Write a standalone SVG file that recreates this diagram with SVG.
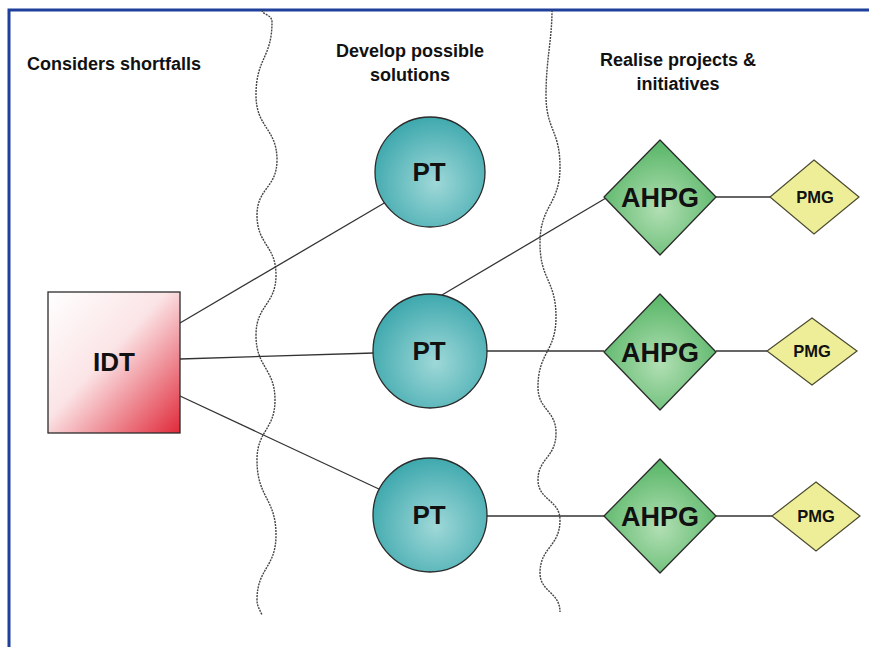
<svg xmlns="http://www.w3.org/2000/svg" width="869" height="647" viewBox="0 0 869 647">
  <defs>
    <linearGradient id="gIdt" x1="0" y1="0" x2="1" y2="1">
      <stop offset="0" stop-color="#ffffff"/>
      <stop offset="0.45" stop-color="#fbe4e6"/>
      <stop offset="1" stop-color="#e02a3a"/>
    </linearGradient>
    <radialGradient id="gPt" cx="0.55" cy="0.6" r="0.6">
      <stop offset="0" stop-color="#9fd8d8"/>
      <stop offset="1" stop-color="#3fa9ae"/>
    </radialGradient>
    <radialGradient id="gAh" cx="0.5" cy="0.6" r="0.55">
      <stop offset="0" stop-color="#b2dfb4"/>
      <stop offset="1" stop-color="#5db86b"/>
    </radialGradient>
    <style>
      .frame { fill: none; stroke: #1e3f9c; stroke-width: 3; }
      .wave { fill: none; stroke: #444; stroke-width: 1.4; stroke-dasharray: 2 1; }
      .conn line { stroke: #333; stroke-width: 1.3; }
      .head { font-family: "Liberation Sans", Arial, sans-serif; font-weight: bold; font-size: 18px; fill: #111; text-anchor: middle; }
      .lbl { font-family: "Liberation Sans", Arial, sans-serif; font-weight: bold; fill: #111; text-anchor: middle; }
      .shape { stroke: #2b2b2b; stroke-width: 1.3; }
      .pmg { fill: #eeee98; stroke: #4a4a30; stroke-width: 1.2; }
    </style>
  </defs>
  <rect width="869" height="647" fill="#ffffff"/>
  <path class="frame" d="M 9 647 L 9 10 L 869 10"/>

  <g id="dividers">
    <path class="wave" d="M 262 10 C 262 15 272 14 272 22 C 272 58 256 58 256 95 C 256 128 277 128 277 160 C 277 188 257 188 257 215 C 257 245 276 245 276 275 C 276 305 256 305 256 335 C 256 368 275 368 275 400 C 275 430 257 430 257 460 C 257 498 276 498 276 535 C 276 568 257 568 257 600 C 257 606 260 610 262 615"/>
    <path class="wave" d="M 552 10 C 552 40 546 60 546 95 C 546 130 560 130 560 167 C 560 205 540 205 540 243 C 540 280 556 280 556 317 C 556 352 538 352 538 387 C 538 410 556 410 556 433 C 556 458 538 458 538 480 C 538 500 560 500 560 520 C 560 547 540 547 540 573 C 540 592 560 592 560 612"/>
  </g>

  <g id="headers">
    <text class="head" x="114" y="70">Considers shortfalls</text>
    <text class="head" x="410" y="57">Develop possible</text>
    <text class="head" x="410" y="81">solutions</text>
    <text class="head" x="678" y="66">Realise projects &amp;</text>
    <text class="head" x="678" y="90">initiatives</text>
  </g>

  <g id="connectors" class="conn">
    <line x1="180" y1="323" x2="386" y2="202"/>
    <line x1="180" y1="359" x2="374" y2="353"/>
    <line x1="180" y1="396" x2="381" y2="490"/>
    <line x1="442" y1="295" x2="606" y2="198"/>
    <line x1="486" y1="351" x2="604" y2="351"/>
    <line x1="486" y1="516" x2="604" y2="516"/>
    <line x1="716" y1="197" x2="770" y2="197"/>
    <line x1="716" y1="351" x2="767" y2="351"/>
    <line x1="716" y1="516" x2="772" y2="516"/>
  </g>

  <g id="idt">
    <rect class="shape" x="48" y="292" width="132" height="141" fill="url(#gIdt)"/>
    <text class="lbl" x="114" y="371" font-size="26">IDT</text>
  </g>

  <g id="pt1">
    <circle class="shape" cx="430" cy="172" r="55" fill="url(#gPt)"/>
    <text class="lbl" x="429" y="181" font-size="26">PT</text>
  </g>
  <g id="pt2">
    <circle class="shape" cx="430" cy="351" r="57" fill="url(#gPt)"/>
    <text class="lbl" x="429" y="360" font-size="26">PT</text>
  </g>
  <g id="pt3">
    <circle class="shape" cx="430" cy="515" r="57" fill="url(#gPt)"/>
    <text class="lbl" x="429" y="524" font-size="26">PT</text>
  </g>

  <g id="ahpg1">
    <path class="shape" d="M 660 140 L 716 197 L 660 255 L 604 197 Z" stroke-linejoin="round" fill="url(#gAh)"/>
    <text class="lbl" x="660" y="207" font-size="27">AHPG</text>
  </g>
  <g id="ahpg2">
    <path class="shape" d="M 660 294 L 716 352 L 660 410 L 604 352 Z" stroke-linejoin="round" fill="url(#gAh)"/>
    <text class="lbl" x="660" y="362" font-size="27">AHPG</text>
  </g>
  <g id="ahpg3">
    <path class="shape" d="M 660 459 L 716 516 L 660 573 L 604 516 Z" stroke-linejoin="round" fill="url(#gAh)"/>
    <text class="lbl" x="660" y="526" font-size="27">AHPG</text>
  </g>

  <g id="pmg1">
    <path class="pmg" d="M 814 160 L 859 197 L 814 234 L 770 197 Z"/>
    <text class="lbl" x="815" y="203" font-size="16.5">PMG</text>
  </g>
  <g id="pmg2">
    <path class="pmg" d="M 812 318 L 857 351 L 812 385 L 767 351 Z"/>
    <text class="lbl" x="812" y="357" font-size="16.5">PMG</text>
  </g>
  <g id="pmg3">
    <path class="pmg" d="M 816 482 L 860 516 L 816 551 L 772 516 Z"/>
    <text class="lbl" x="816" y="522" font-size="16.5">PMG</text>
  </g>
</svg>
